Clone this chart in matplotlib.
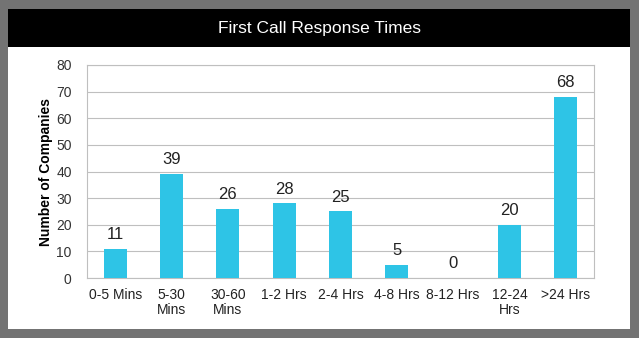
import matplotlib
matplotlib.use("Agg")
import matplotlib.pyplot as plt
from matplotlib.patches import Rectangle

categories = ["0-5 Mins", "5-30\nMins", "30-60\nMins", "1-2 Hrs", "2-4 Hrs",
              "4-8 Hrs", "8-12 Hrs", "12-24\nHrs", ">24 Hrs"]
companies = [11, 39, 26, 28, 25, 5, 0, 20, 68]
y_ticks = [0, 10, 20, 30, 40, 50, 60, 70, 80]

plt.rcParams['font.family'] = ['Liberation Sans', 'DejaVu Sans']

W, H = 639, 338
fig = plt.figure(figsize=(W / 100, H / 100), dpi=100)
fig.patch.set_facecolor('#737373')

# white card and black title band (behind the axes)
fig.add_artist(Rectangle((8 / W, 1 - 329 / H), 622 / W, 320 / H, zorder=-2,
                         transform=fig.transFigure, facecolor='white', edgecolor='none'))
fig.add_artist(Rectangle((8 / W, 1 - 47 / H), 622 / W, 38 / H, zorder=-1,
                         transform=fig.transFigure, facecolor='black', edgecolor='none'))
fig.text(319 / W, 1 - 28 / H, "First Call Response Times", color='white',
         fontsize=12.5, ha='center', va='center')

ax = fig.add_axes([87 / W, 1 - 278 / H, 507 / W, 213 / H])
ax.patch.set_alpha(0)
x = range(len(categories))
bars = ax.bar(x, companies, width=0.41, color='#2EC4E6', zorder=3)
for xi, v in zip(x, companies):
    ax.text(xi, v + 2.6, str(v), ha='center', va='bottom', fontsize=12, color='#222222')

ax.set_xlim(-0.5, len(categories) - 0.5)
ax.set_ylim(0, 80)
ax.set_yticks(y_ticks)
ax.set_xticks(list(x))
ax.set_xticklabels(categories, fontsize=10, linespacing=1.15, color='#222222')
ax.tick_params(axis='y', labelsize=10, length=0, pad=11, labelcolor='#333333')
ax.tick_params(axis='x', length=0, pad=7)
ax.yaxis.grid(True, color='#BFBFBF', linewidth=0.8, zorder=0)
for s in ax.spines.values():
    s.set_color('#BFBFBF')
    s.set_linewidth(0.8)
ax.set_ylabel("Number of Companies", fontsize=10, fontweight='bold')
ax.yaxis.set_label_coords(-0.068, 0.5)

fig.savefig("out.png", dpi=100, facecolor=fig.get_facecolor())
